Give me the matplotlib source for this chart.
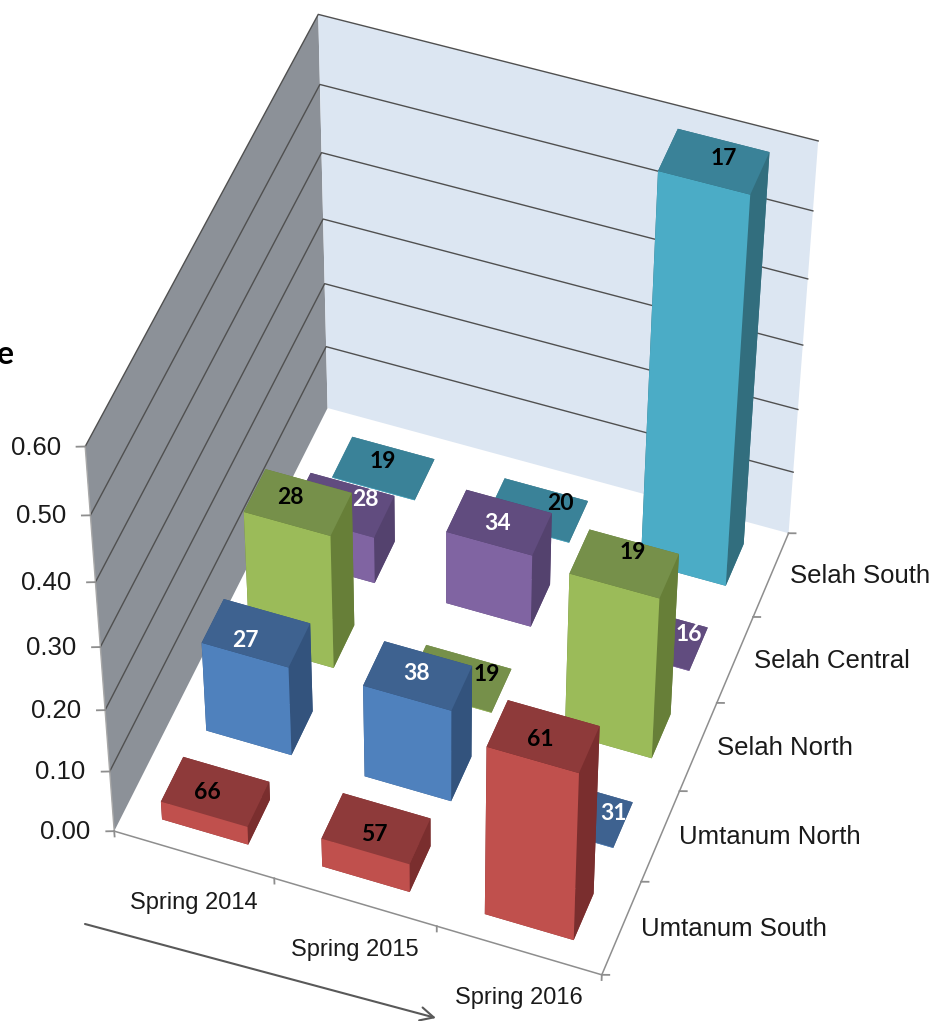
import numpy as np
import matplotlib
matplotlib.use("Agg")
import matplotlib.pyplot as plt
from mpl_toolkits.mplot3d.art3d import Poly3DCollection

seasons = ["Spring 2014", "Spring 2015", "Spring 2016"]
sites = ["Umtanum South", "Umtanum North", "Selah North", "Selah Central", "Selah South"]
y_ticks = [0.0, 0.1, 0.2, 0.3, 0.4, 0.5, 0.6]

# value per season, one list per site
umtanum_south = [0.03, 0.047, 0.275]
umtanum_north = [0.145, 0.15, 0.0]
selah_north = [0.215, 0.0, 0.26]
selah_central = [0.075, 0.117, 0.0]
selah_south = [0.0, 0.0, 0.60]
site_values = [umtanum_south, umtanum_north, selah_north, selah_central, selah_south]

# sample size printed on each bar
n_umtanum_south = [66, 57, 61]
n_umtanum_north = [27, 38, 31]
n_selah_north = [28, 19, 19]
n_selah_central = [28, 34, 16]
n_selah_south = [19, 20, 17]
site_counts = [n_umtanum_south, n_umtanum_north, n_selah_north, n_selah_central, n_selah_south]

# (front, top, side) per site
site_colors = [
    ("#C0504D", "#8E3A3A", "#7A2E2E"),
    ("#4F81BD", "#3E6290", "#33537D"),
    ("#9BBB59", "#76904A", "#677F38"),
    ("#8064A2", "#614C7F", "#54426E"),
    ("#4BACC6", "#3A8298", "#326E7E"),
]
label_colors = ["black", "white", "black", "white", "black"]

# label nudges in pixels from the bar top centre, Excel places these loosely
label_shift = [
    [(-8, 1), (-2, 6), (-3, 3)],
    [(-11, 7), (-1, -2), (34, 1)],
    [(-7, -5), (28, -4), (8, -11)],
    [(23, -6), (-2, 1), (33, -3)],
    [(-1, -7), (24, -7), (10, -3)],
]

BAR_DX = 0.54
BAR_DY = 0.50
W, H = 932, 1021

# camera: where known chart corners and ticks sit in the picture
calib_world = np.array([
    (0, 0, 0), (1, 0, 0), (2, 0, 0), (3, 0, 0),
    (3, 1, 0), (3, 2, 0), (3, 3, 0), (3, 4, 0), (3, 5, 0),
    (0, 5, 0), (0, 0, 0.6), (0, 5, 0.6), (3, 5, 0.6),
    (0, 0, 0.5), (0, 0, 0.4), (0, 0, 0.3), (0, 0, 0.1),
    (0, 5, 0.5), (0, 5, 0.4), (0, 5, 0.3), (0, 5, 0.2),
])
calib_pixel = np.array([
    (114.3, 830.7), (274, 880), (436, 928), (600.7, 975),
    (641.7, 881.7), (679.3, 790.7), (716.7, 702), (753.3, 616), (790, 531.7),
    (327.7, 405), (85.7, 447.3), (318, 11), (818, 143),
    (90.7, 514.3), (95.7, 581.7), (100.7, 645.7), (110, 771),
    (319.6, 82.6), (321.3, 153.6), (322.8, 222), (324.2, 289),
])


def fit_camera(world, pixel):
    """Least squares 3x4 camera from world/pixel pairs."""
    rows = []
    for (x, y, z), (u, v) in zip(world, pixel):
        p = [x, y, z * 10, 1]
        u, v = u / 1000, v / 1000
        rows.append(p + [0, 0, 0, 0] + [-u * c for c in p])
        rows.append([0, 0, 0, 0] + p + [-v * c for c in p])
    cam = np.linalg.svd(np.array(rows))[2][-1].reshape(3, 4)
    cam = np.diag([1000, 1000, 1]) @ cam @ np.diag([1, 1, 10, 1])
    if cam[2] @ np.array([1.5, 2.5, 0, 1]) < 0:
        cam = -cam
    return cam


camera = fit_camera(calib_world, calib_pixel)


def to_pixel(x, y, z):
    u, v, w = camera @ np.array([x, y, z, 1.0])
    return u / w, v / w


fig = plt.figure(figsize=(W / 100, H / 100), dpi=100)
# square in pixels so Axes3D does not shrink it
ax = fig.add_axes([-(H - W) / 2 / W, 0, H / W, 1], projection="3d")
ax.set_axis_off()
ax.computed_zorder = False


def fitted_proj():
    flip = np.array([[1, 0, 0], [0, -1, H], [0, 0, 1]], dtype=float)
    view = ax.transData.inverted().get_matrix() @ flip @ camera
    return np.vstack([view[0], view[1], [0, 0, 0, -1], view[2]])


ax.get_proj = fitted_proj


def pixel_text(px, py, s, **kwargs):
    # flat text over the 3d axes, placed from the top left of the picture
    fig.text(px / W, 1 - py / H, s, zorder=5, **kwargs)


xmax, ymax, zmax = len(seasons), len(sites), y_ticks[-1]

# walls
left_wall = [(0, 0, 0), (0, ymax, 0), (0, ymax, zmax), (0, 0, zmax)]
back_wall = [(0, ymax, 0), (xmax, ymax, 0), (xmax, ymax, zmax), (0, ymax, zmax)]
ax.add_collection3d(Poly3DCollection([left_wall], facecolors="#8C9198", linewidths=0, zorder=1))
ax.add_collection3d(Poly3DCollection([back_wall], facecolors="#DCE6F2", linewidths=0, zorder=1))

# gridlines
for tick in y_ticks[1:]:
    ax.plot([0, 0, xmax], [0, ymax, ymax], [tick, tick, tick], color="#505050", lw=1.0, zorder=2)

# axis edges and ticks
axis_gray = "#8E8E8E"
tick_font = dict(family="Liberation Sans", color="#1a1a1a")
ax.plot([0, xmax, xmax], [0, 0, ymax], [0, 0, 0], color=axis_gray, lw=1.1, zorder=2)
ax.plot([0, 0], [0, 0], [0, zmax], color="#A8A8A8", lw=1.0, zorder=2)
for tick in y_ticks:
    ax.plot([0, -0.043], [0, -0.024], [tick, tick], color=axis_gray, lw=1.3, zorder=2)
    px, py = to_pixel(0, 0, tick)
    pixel_text(px - 24, py + 1, f"{tick:.2f}", ha="right", va="center", fontsize=18.5, **tick_font)
for k in range(xmax + 1):
    ax.plot([k, k], [0, 0], [0, -0.009], color=axis_gray, lw=1.3, zorder=2)
for j in range(ymax + 1):
    ax.plot([xmax, xmax + 0.04], [j, j + 0.02], [0, 0], color=axis_gray, lw=1.3, zorder=2)

for k, name in enumerate(seasons):
    px, py = to_pixel(k + 0.5, 0, 0)
    pixel_text(px, py + 48, name, ha="center", va="center", fontsize=17, **tick_font)
for j, name in enumerate(sites):
    px, py = to_pixel(xmax, j + 0.5, 0)
    pixel_text(px + 19, py + 1, name, ha="left", va="center", fontsize=18.5, **tick_font)

# bars, back row first
order = 3
for j in range(ymax - 1, -1, -1):
    front, top, side = site_colors[j]
    for k in range(xmax):
        val = site_values[j][k]
        x0 = k + 0.5 - BAR_DX / 2
        y0 = j + 0.5 - BAR_DY / 2
        ax.bar3d(x0, y0, 0, BAR_DX, BAR_DY, max(val, 0.001),
                 color=[top, top, front, side, side, side], shade=False,
                 linewidth=0, zorder=order)
        order += 1
        px, py = to_pixel(k + 0.5, j + 0.5, val)
        dx, dy = label_shift[j][k]
        pixel_text(px + dx, py + dy, str(site_counts[j][k]), ha="center", va="center",
                   fontsize=16.5, family="Lato", fontweight="bold", color=label_colors[j])

# trend arrow and the cut off axis title
ax.annotate("", xy=(436, H - 1018), xytext=(85, H - 924),
            xycoords="figure pixels", textcoords="figure pixels",
            arrowprops=dict(arrowstyle="->", color="#595959", lw=1.5, mutation_scale=24,
                            shrinkA=0, shrinkB=0))
pixel_text(14, 355, "e", ha="right", va="center", fontsize=23,
           family="Lato", fontweight="bold", color="black")

fig.savefig("out.png", dpi=100, facecolor="white")
plt.close(fig)
